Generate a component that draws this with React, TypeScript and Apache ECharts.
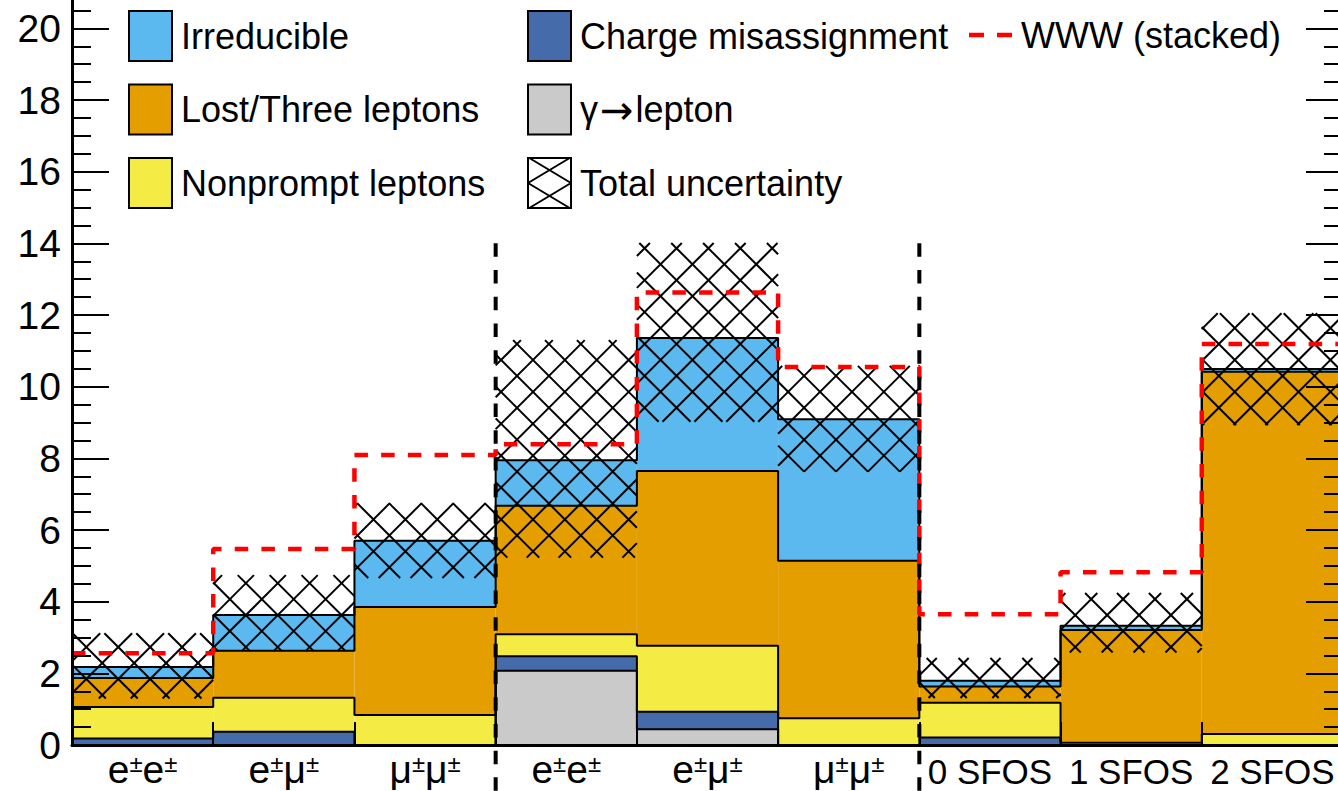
import React, { useEffect, useRef } from 'react';
import * as echarts from 'echarts';

// ---------- data ----------
const categories = ['e±e±', 'e±μ±', 'μ±μ±', 'e±e±', 'e±μ±', 'μ±μ±', '0 SFOS', '1 SFOS', '2 SFOS'];
const gammaLepton = [0, 0, 0, 2.07, 0.44, 0, 0, 0, 0];
const chargeMis = [0.18, 0.37, 0, 0.41, 0.49, 0, 0.21, 0, 0];
const nonprompt = [0.88, 0.95, 0.84, 0.61, 1.84, 0.75, 0.97, 0.06, 0.31];
const lostThree = [0.81, 1.31, 3.01, 3.59, 4.88, 4.39, 0.45, 3.15, 10.11];
const irreducible = [0.31, 1.0, 1.85, 1.27, 3.71, 3.95, 0.16, 0.12, 0.07];
const uncLow = [1.3, 2.62, 4.66, 5.23, 9.02, 7.63, 1.31, 2.58, 8.93];
const uncHigh = [3.12, 4.74, 6.75, 11.3, 14.01, 10.58, 2.43, 4.24, 12.05];
const wwwStacked = [2.56, 5.47, 8.09, 8.39, 12.63, 10.55, 3.65, 4.82, 11.19];
const dividerEdges = [3, 6];
const dividerTop = 14;

// ---------- style ----------
const FONT = "'Liberation Sans', Arial, Helvetica, sans-serif";
const COLORS = {
  irr: '#5BB9EF',
  lost: '#E59E00',
  np: '#F4EB45',
  chmis: '#456BAA',
  gamma: '#CACACA',
  www: '#FF0000',
};
const HATCH_D = 31.9;
const HATCH_CA = 13.5; // phase of x - y lines (px)
const HATCH_CB = 31.6; // phase of x + y lines (px)

const nBins = categories.length;

function mod(a: number, m: number) {
  return ((a % m) + m) % m;
}

function hatchLines(x0: number, y0: number, x1: number, y1: number) {
  const out: number[][] = [];
  const d = HATCH_D;
  const cAmin = x0 - y1;
  const cAmax = x1 - y0;
  let c = cAmin + mod(HATCH_CA - cAmin, d);
  for (; c <= cAmax; c += d) {
    const xs = Math.max(x0, y0 + c);
    const xe = Math.min(x1, y1 + c);
    if (xe > xs) out.push([xs, xs - c, xe, xe - c]);
  }
  const cBmin = x0 + y0;
  const cBmax = x1 + y1;
  c = cBmin + mod(HATCH_CB - cBmin, d);
  for (; c <= cBmax; c += d) {
    const xs = Math.max(x0, c - y1);
    const xe = Math.min(x1, c - y0);
    if (xe > xs) out.push([xs, c - xs, xe, c - xe]);
  }
  return out;
}

function stepPoints(levels: number[], closeEnds: boolean) {
  const pts: number[][] = [];
  if (closeEnds) pts.push([0, 0]);
  levels.forEach((v, i) => {
    pts.push([i, v], [i + 1, v]);
  });
  if (closeEnds) pts.push([levels.length, 0]);
  return pts;
}

const components = [gammaLepton, chargeMis, nonprompt, lostThree, irreducible];
const cumulative = components.map((_, k) =>
  categories.map((__, i) => {
    let s = 0;
    for (let j = 0; j <= k; j++) s += components[j][i];
    return Math.round(s * 1000) / 1000;
  })
);

const hatchIcon =
  'path://M0,0H43V50H0Z M0,25L41.7,0 M1.3,0L43,25 M0,25L41.7,50 M1.3,50L43,25';
const dashIcon = 'path://M0,0H15V4.5H0Z M28,0H43V4.5H28Z';

function buildOption(): any {
  const barSeries = [
    { name: 'γ→lepton', data: gammaLepton, color: COLORS.gamma },
    { name: 'Charge misassignment', data: chargeMis, color: COLORS.chmis },
    { name: 'Nonprompt leptons', data: nonprompt, color: COLORS.np },
    { name: 'Lost/Three leptons', data: lostThree, color: COLORS.lost },
    { name: 'Irreducible', data: irreducible, color: COLORS.irr },
  ].map((s) => ({
    type: 'bar',
    name: s.name,
    data: s.data,
    stack: 'bkg',
    xAxisIndex: 0,
    yAxisIndex: 0,
    barCategoryGap: '0%',
    itemStyle: { color: s.color, borderWidth: 0 },
    z: 2,
    silent: true,
  }));

  const outlineSeries = cumulative.map((lv, k) => ({
    type: 'line',
    name: 'outline' + k,
    xAxisIndex: 1,
    yAxisIndex: 0,
    data: stepPoints(lv, true),
    symbol: 'none',
    lineStyle: { color: '#000', width: 2 },
    z: 3,
    silent: true,
  }));

  const hatchSeries = {
    type: 'custom',
    name: 'Total uncertainty',
    xAxisIndex: 1,
    yAxisIndex: 0,
    clip: false,
    z: 4,
    silent: true,
    itemStyle: { color: '#fff', borderColor: '#000', borderWidth: 2 },
    data: uncLow.map((lo, i) => [i, lo, uncHigh[i]]),
    encode: { x: 0, y: [1, 2] },
    renderItem: (params: any, api: any) => {
      const i = api.value(0);
      const lo = api.value(1);
      const hi = api.value(2);
      const tl = api.coord([i, hi]);
      const br = api.coord([i + 1, lo]);
      const lines = hatchLines(tl[0], tl[1], br[0], br[1]);
      return {
        type: 'group',
        children: lines.map((l) => ({
          type: 'line',
          shape: { x1: l[0], y1: l[1], x2: l[2], y2: l[3] },
          style: { stroke: '#000', lineWidth: 2 },
        })),
      };
    },
  };

  const wwwSeries = {
    type: 'line',
    name: 'WWW (stacked)',
    xAxisIndex: 1,
    yAxisIndex: 0,
    data: stepPoints(wwwStacked, false),
    symbol: 'none',
    lineStyle: { color: COLORS.www, width: 4.5, type: [13.5, 13.2] },
    itemStyle: { color: COLORS.www },
    z: 5,
    silent: true,
  };

  const dividerSeries = {
    type: 'custom',
    name: 'dividers',
    xAxisIndex: 1,
    yAxisIndex: 0,
    clip: false,
    z: 6,
    silent: true,
    data: dividerEdges.map((e) => [e, dividerTop]),
    encode: { x: 0, y: 1 },
    renderItem: (params: any, api: any) => {
      const e = api.value(0);
      const top = api.coord([e, api.value(1)]);
      const bot = api.coord([e, 0]);
      return {
        type: 'line',
        shape: { x1: top[0], y1: top[1], x2: bot[0], y2: bot[1] + 50 },
        style: { stroke: '#000', lineWidth: 4, lineDash: [13.5, 13.2] },
      };
    },
  };

  const legendCommon = {
    orient: 'vertical',
    top: 10,
    itemWidth: 43,
    itemHeight: 50,
    itemGap: 21.5,
    padding: 0,
    selectedMode: false,
    textStyle: {
      fontSize: 36,
      color: '#000',
      fontFamily: FONT,
      padding: [0, 0, 0, 4],
      rich: {
        g: { fontSize: 36, color: '#000', fontFamily: FONT },
        a: { fontSize: 40, color: '#000', fontFamily: "'DejaVu Sans', sans-serif", padding: [0, 2, 0, 2] },
        n: { fontSize: 36, color: '#000', fontFamily: FONT },
      },
    },
  };

  const yAxisCommon = {
    type: 'value',
    min: 0,
    max: 22,
    interval: 2,
    axisLine: { show: true, onZero: false, lineStyle: { color: '#000', width: 3 } },
    axisTick: { show: true, inside: true, length: 37, lineStyle: { color: '#000', width: 2 } },
    minorTick: { show: true, splitNumber: 4, length: 19, lineStyle: { color: '#000', width: 2 } },
    splitLine: { show: false },
    minorSplitLine: { show: false },
    z: 10,
  };

  return {
    animation: false,
    backgroundColor: '#fff',
    grid: {
      left: 72,
      right: -5,
      top: -43.3,
      bottom: 46,
      containLabel: false,
      outerBoundsMode: 'none',
    },
    legend: [
      {
        ...legendCommon,
        left: 128,
        icon: 'rect',
        itemStyle: { borderColor: '#000', borderWidth: 2 },
        data: ['Irreducible', 'Lost/Three leptons', 'Nonprompt leptons'],
      },
      {
        ...legendCommon,
        left: 527,
        icon: 'rect',
        itemStyle: { borderColor: '#000', borderWidth: 2 },
        formatter: (name: string) =>
          name === 'γ→lepton' ? '{g|γ}{a|→}{n|lepton}' : name,
        data: [
          'Charge misassignment',
          'γ→lepton',
          {
            name: 'Total uncertainty',
            icon: hatchIcon,
            itemStyle: { color: '#fff', borderColor: '#000', borderWidth: 2 },
          },
        ],
      },
      {
        ...legendCommon,
        left: 969,
        top: 17,
        data: [
          {
            name: 'WWW (stacked)',
            icon: dashIcon,
            itemStyle: { color: COLORS.www, borderWidth: 0 },
          },
        ],
      },
    ],
    xAxis: [
      {
        type: 'category',
        data: categories,
        boundaryGap: true,
        axisLine: { show: true, onZero: false, lineStyle: { color: '#000', width: 3 } },
        axisTick: { show: true, inside: true, length: 23, alignWithLabel: false, lineStyle: { color: '#000', width: 2 } },
        splitLine: { show: false },
        axisLabel: {
          margin: 14,
          interval: 0,
          formatter: (v: string) =>
            v.indexOf('±') >= 0
              ? v
                  .split(/(±)/)
                  .filter((p) => p.length > 0)
                  .map((p) => (p === '±' ? '{s|±}' : `{g|${p}}`))
                  .join('')
              : `{n|${v}}`,
          rich: {
            n: { fontSize: 35, fontFamily: FONT, color: '#000', lineHeight: 30, verticalAlign: 'bottom' },
            g: { fontSize: 39, fontFamily: FONT, color: '#000', lineHeight: 30, verticalAlign: 'bottom' },
            s: { fontSize: 24, fontFamily: FONT, color: '#000', lineHeight: 16, verticalAlign: 'bottom', padding: [0, 0, 14, 0] },
          },
        },
        z: 10,
      },
      { type: 'value', min: 0, max: nBins, show: false },
    ],
    yAxis: [
      {
        ...yAxisCommon,
        position: 'left',
        axisLabel: { fontSize: 39, color: '#000', fontFamily: FONT, margin: 11, showMaxLabel: false },
      },
      {
        ...yAxisCommon,
        position: 'right',
        axisLabel: { show: false },
      },
    ],
    series: [...barSeries, ...outlineSeries, hatchSeries, wwwSeries, dividerSeries],
  };
}

export default function App() {
  const ref = useRef<HTMLDivElement>(null);
  useEffect(() => {
    if (!ref.current) return;
    const chart = echarts.init(ref.current, null, { renderer: 'svg' });
    chart.setOption(buildOption());
    return () => chart.dispose();
  }, []);
  return (
    <div
      ref={ref}
      style={{ position: 'fixed', left: 0, top: 0, width: 1338, height: 791, background: '#fff' }}
    />
  );
}
